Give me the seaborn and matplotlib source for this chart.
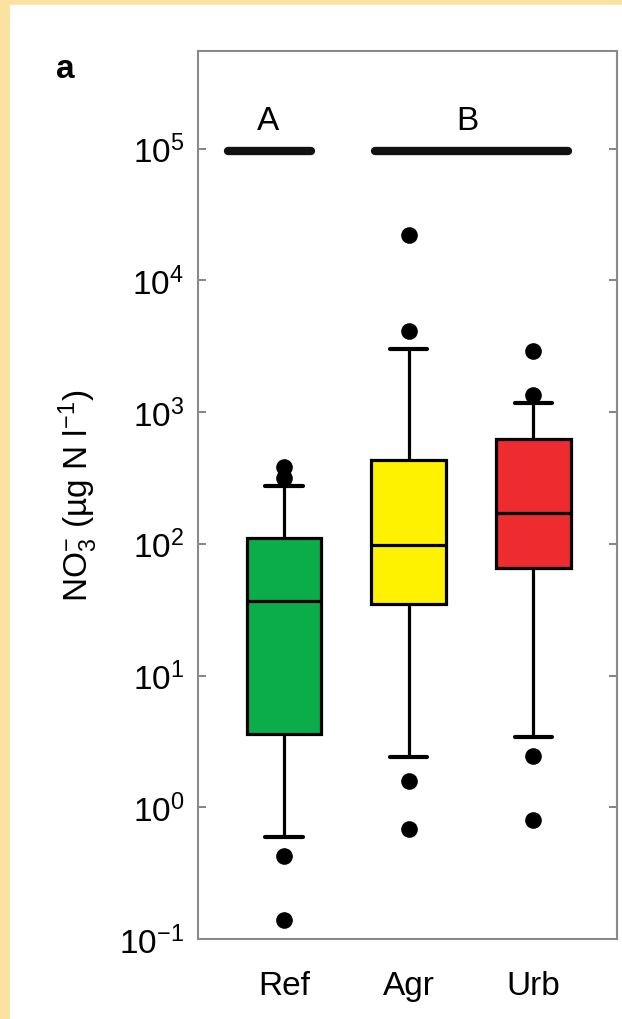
import numpy as np
import pandas as pd
import matplotlib
matplotlib.use("Agg")
import matplotlib.pyplot as plt
from matplotlib.ticker import NullLocator
import seaborn as sns

# data (ug N per litre)
sites = ["Ref", "Agr", "Urb"]
box_colors = ["#0aad4a", "#fff200", "#ee2b2e"]

# lower whisker, Q1, median, Q3, upper whisker
ref_box = [0.59, 3.6, 37, 110, 275]
agr_box = [2.4, 35, 98, 435, 3000]
urb_box = [3.4, 66, 170, 620, 1170]

ref_out = [385, 316, 0.43, 0.14]
agr_out = [22000, 4100, 1.57, 0.68]
urb_out = [2900, 1350, 2.45, 0.8]

# significance groups drawn above the boxes
sig_labels = ["A", "B"]
sig_spans = [(-0.45, 0.22), (0.73, 2.28)]
sig_label_x = [-0.13, 1.47]
sig_level = 0.96e5
sig_label_y = 1.63e5

yticks = [1e-1, 1e0, 1e1, 1e2, 1e3, 1e4, 1e5]

box_df = pd.DataFrame({
    "site": np.repeat(sites, 5),
    "no3": ref_box + agr_box + urb_box,
})
out_df = pd.DataFrame({
    "site": np.repeat(sites, 4),
    "no3": ref_out + agr_out + urb_out,
})

sns.set_style("white")
plt.rcParams["font.family"] = ["Liberation Sans", "DejaVu Sans"]
plt.rcParams["mathtext.fontset"] = "custom"
plt.rcParams["mathtext.rm"] = "Liberation Sans"
plt.rcParams["mathtext.it"] = "Liberation Sans:italic"
plt.rcParams["mathtext.default"] = "regular"
plt.rcParams["axes.unicode_minus"] = False
plt.rcParams["text.color"] = "black"
plt.rcParams["axes.labelcolor"] = "black"

fig = plt.figure(figsize=(6.22, 10.2), dpi=100)
fig.patch.set_facecolor("#fce2a0")
fig.add_artist(plt.Rectangle((10 / 622, 0), 1, 1 - 6 / 1020,
                             transform=fig.transFigure, color="white", zorder=-1))
ax = fig.add_axes([198 / 622, 1 - 940 / 1020, 419 / 622, 888 / 1020])

sns.boxplot(data=box_df, x="site", y="no3", hue="site", order=sites,
            hue_order=sites, palette=dict(zip(sites, box_colors)),
            saturation=1, whis=(0, 100), width=0.6, log_scale=True,
            linecolor="black", linewidth=2.3, showfliers=False, legend=False,
            ax=ax, capprops={"linewidth": 3})
sns.stripplot(data=out_df, x="site", y="no3", order=sites, color="black",
              size=12, jitter=False, ax=ax, zorder=5)

for lab, (x0, x1), lx in zip(sig_labels, sig_spans, sig_label_x):
    ax.plot([x0, x1], [sig_level, sig_level], color="#111111", lw=6,
            solid_capstyle="round")
    ax.text(lx, sig_label_y, lab, fontsize=24, ha="center", va="center")

ax.set_xlim(-0.69, 2.67)
ax.set_ylim(0.1, 5.5e5)
ax.set_yticks(yticks)
ax.yaxis.set_minor_locator(NullLocator())
ax.tick_params(axis="y", which="major", direction="in", length=6, width=1.2,
               color="#707070", left=True, right=True, labelsize=24, pad=10,
               labelcolor="black")
ax.tick_params(axis="x", length=0, labelsize=24, pad=22, labelcolor="black")
ax.set_xlabel("")
ax.set_ylabel(r"NO$_3^{-}$ (µg N l$^{-1}$)", fontsize=24, labelpad=14)

for sp in ax.spines.values():
    sp.set_visible(True)
    sp.set_color("#8a8a8a")
    sp.set_linewidth(1.5)

fig.text(65 / 622, 1 - 70 / 1020, "a", fontsize=24, fontweight="bold",
         ha="center", va="center")

fig.savefig("out.png", dpi=100)
